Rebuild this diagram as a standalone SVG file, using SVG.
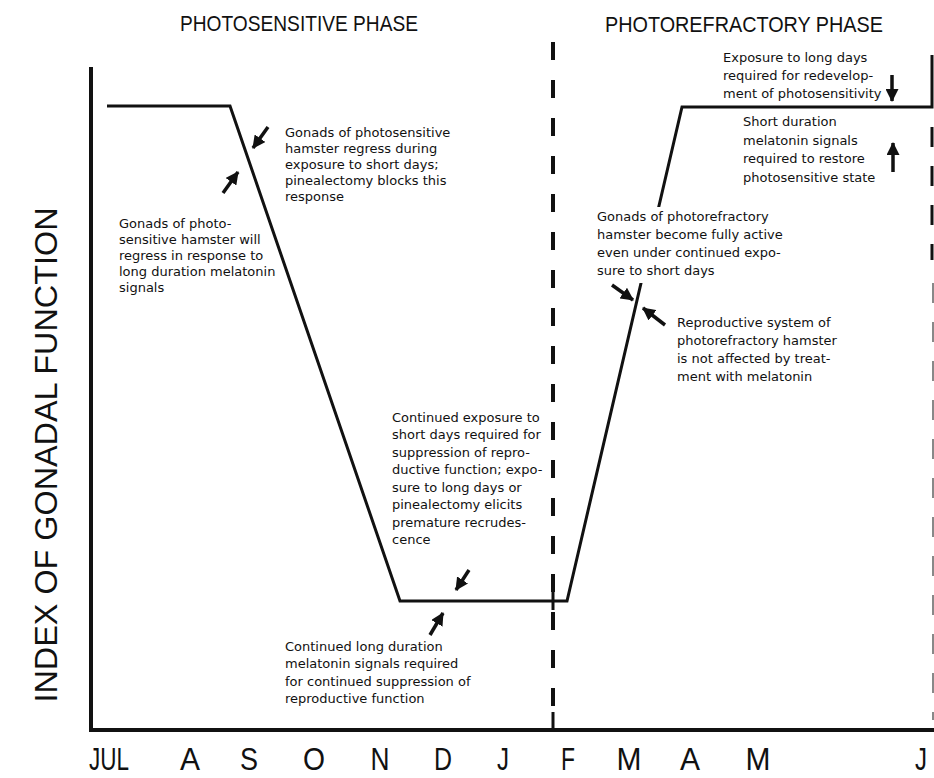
<svg xmlns="http://www.w3.org/2000/svg" width="934" height="778" viewBox="0 0 934 778">
<style>
.t{font-family:"DejaVu Sans","Liberation Sans",sans-serif;font-size:13px;fill:#111}
.h{font-family:"Liberation Sans",Arial,sans-serif;font-size:22px;fill:#111}
.m{font-family:"Liberation Sans",Arial,sans-serif;font-size:32px;fill:#111;text-anchor:middle}
.ax{stroke:#111;stroke-width:4;fill:none}
.cv{stroke:#111;stroke-width:3;fill:none;stroke-linejoin:miter}
.ds{stroke:#111;stroke-width:4;fill:none;stroke-dasharray:18 20}
.ar{stroke:#111;stroke-width:3.5;fill:none;marker-end:url(#ah)}
</style>
<defs>
<marker id="ah" markerUnits="userSpaceOnUse" markerWidth="13" markerHeight="13" refX="12" refY="6.5" orient="auto">
<path d="M0,0 L13,6.5 L0,13 z" fill="#111"/>
</marker>
</defs>
<rect width="934" height="778" fill="#fff"/>

<g id="headers">
<text class="h" x="180" y="31" textLength="238" lengthAdjust="spacingAndGlyphs">PHOTOSENSITIVE PHASE</text>
<text class="h" x="605" y="32" textLength="278" lengthAdjust="spacingAndGlyphs">PHOTOREFRACTORY PHASE</text>
</g>

<g id="axes">
<line class="ax" x1="91" y1="67" x2="91" y2="732"/>
<line class="ax" x1="89" y1="730" x2="934" y2="730"/>
<text class="m" transform="translate(57,455) rotate(-90)" textLength="495" lengthAdjust="spacingAndGlyphs">INDEX OF GONADAL FUNCTION</text>
</g>

<g id="months">
<text class="m" x="109" y="770" textLength="40" lengthAdjust="spacingAndGlyphs">JUL</text>
<text class="m" x="190" y="770" textLength="20" lengthAdjust="spacingAndGlyphs">A</text>
<text class="m" x="249" y="770" textLength="18" lengthAdjust="spacingAndGlyphs">S</text>
<text class="m" x="314" y="770" textLength="22" lengthAdjust="spacingAndGlyphs">O</text>
<text class="m" x="380" y="770" textLength="19" lengthAdjust="spacingAndGlyphs">N</text>
<text class="m" x="443" y="770" textLength="18" lengthAdjust="spacingAndGlyphs">D</text>
<text class="m" x="503" y="770" textLength="12" lengthAdjust="spacingAndGlyphs">J</text>
<text class="m" x="568" y="770" textLength="14" lengthAdjust="spacingAndGlyphs">F</text>
<text class="m" x="629" y="770" textLength="25" lengthAdjust="spacingAndGlyphs">M</text>
<text class="m" x="690" y="770" textLength="20" lengthAdjust="spacingAndGlyphs">A</text>
<text class="m" x="758" y="770" textLength="25" lengthAdjust="spacingAndGlyphs">M</text>
<text class="m" x="921" y="770" textLength="12" lengthAdjust="spacingAndGlyphs">J</text>
</g>

<g id="phase-dividers">
<line class="ds" x1="553" y1="42" x2="553" y2="716"/>
<line stroke="#111" stroke-width="3" x1="553" y1="712" x2="553" y2="730"/>
<line stroke="#111" stroke-width="3" x1="553" y1="592" x2="553" y2="610"/>
<line stroke="#111" stroke-width="3" stroke-dasharray="20 19" x1="932" y1="127" x2="932" y2="260"/>
<line stroke="#888" stroke-width="2" stroke-dasharray="20 19" x1="933" y1="283" x2="933" y2="720"/>
</g>

<g id="gonadal-curve">
<polyline class="cv" points="107,106 230,106 400,601 567,601 682,107 932,107 932,55"/>
</g>

<g id="note-regress-short-days">
<text class="t" x="285" y="137">Gonads of photosensitive</text>
<text class="t" x="285" y="153">hamster regress during</text>
<text class="t" x="285" y="169">exposure to short days;</text>
<text class="t" x="285" y="185">pinealectomy blocks this</text>
<text class="t" x="285" y="201">response</text>
</g>

<g id="note-regress-melatonin">
<text class="t" x="119" y="228">Gonads of photo-</text>
<text class="t" x="119" y="244">sensitive hamster will</text>
<text class="t" x="119" y="260">regress in response to</text>
<text class="t" x="119" y="276">long duration melatonin</text>
<text class="t" x="119" y="292">signals</text>
</g>

<g id="note-continued-short-days">
<text class="t" x="392" y="422">Continued exposure to</text>
<text class="t" x="392" y="439">short days required for</text>
<text class="t" x="392" y="457">suppression of repro-</text>
<text class="t" x="392" y="474">ductive function; expo-</text>
<text class="t" x="392" y="492">sure to long days or</text>
<text class="t" x="392" y="509">pinealectomy elicits</text>
<text class="t" x="392" y="527">premature recrudes-</text>
<text class="t" x="392" y="544">cence</text>
</g>

<g id="note-continued-melatonin">
<text class="t" x="285" y="651">Continued long duration</text>
<text class="t" x="285" y="668">melatonin signals required</text>
<text class="t" x="285" y="686">for continued suppression of</text>
<text class="t" x="285" y="703">reproductive function</text>
</g>

<g id="note-long-days">
<text class="t" x="723" y="62">Exposure to long days</text>
<text class="t" x="723" y="80">required for redevelop-</text>
<text class="t" x="723" y="98">ment of photosensitivity</text>
</g>

<g id="note-short-melatonin">
<text class="t" x="743" y="126">Short duration</text>
<text class="t" x="743" y="145">melatonin signals</text>
<text class="t" x="743" y="163">required to restore</text>
<text class="t" x="743" y="182">photosensitive state</text>
</g>

<g id="note-fully-active">
<rect x="594" y="207" width="192" height="76" fill="#fff"/>
<text class="t" x="597" y="221">Gonads of photorefractory</text>
<text class="t" x="597" y="239">hamster become fully active</text>
<text class="t" x="597" y="257">even under continued expo-</text>
<text class="t" x="597" y="275">sure to short days</text>
</g>

<g id="note-not-affected">
<text class="t" x="677" y="327">Reproductive system of</text>
<text class="t" x="677" y="345">photorefractory hamster</text>
<text class="t" x="677" y="363">is not affected by treat-</text>
<text class="t" x="677" y="381">ment with melatonin</text>
</g>

<g id="connectors">
<line class="ar" x1="268" y1="127" x2="253" y2="148"/>
<line class="ar" x1="223" y1="193" x2="238" y2="172"/>
<line class="ar" x1="469" y1="570" x2="456" y2="590"/>
<line class="ar" x1="430" y1="635" x2="443" y2="613"/>
<line class="ar" x1="612" y1="285" x2="633" y2="300"/>
<line class="ar" x1="665" y1="325" x2="643" y2="308"/>
<line class="ar" x1="892" y1="75" x2="892" y2="101"/>
<line class="ar" x1="893" y1="172" x2="893" y2="143"/>
</g>
</svg>
